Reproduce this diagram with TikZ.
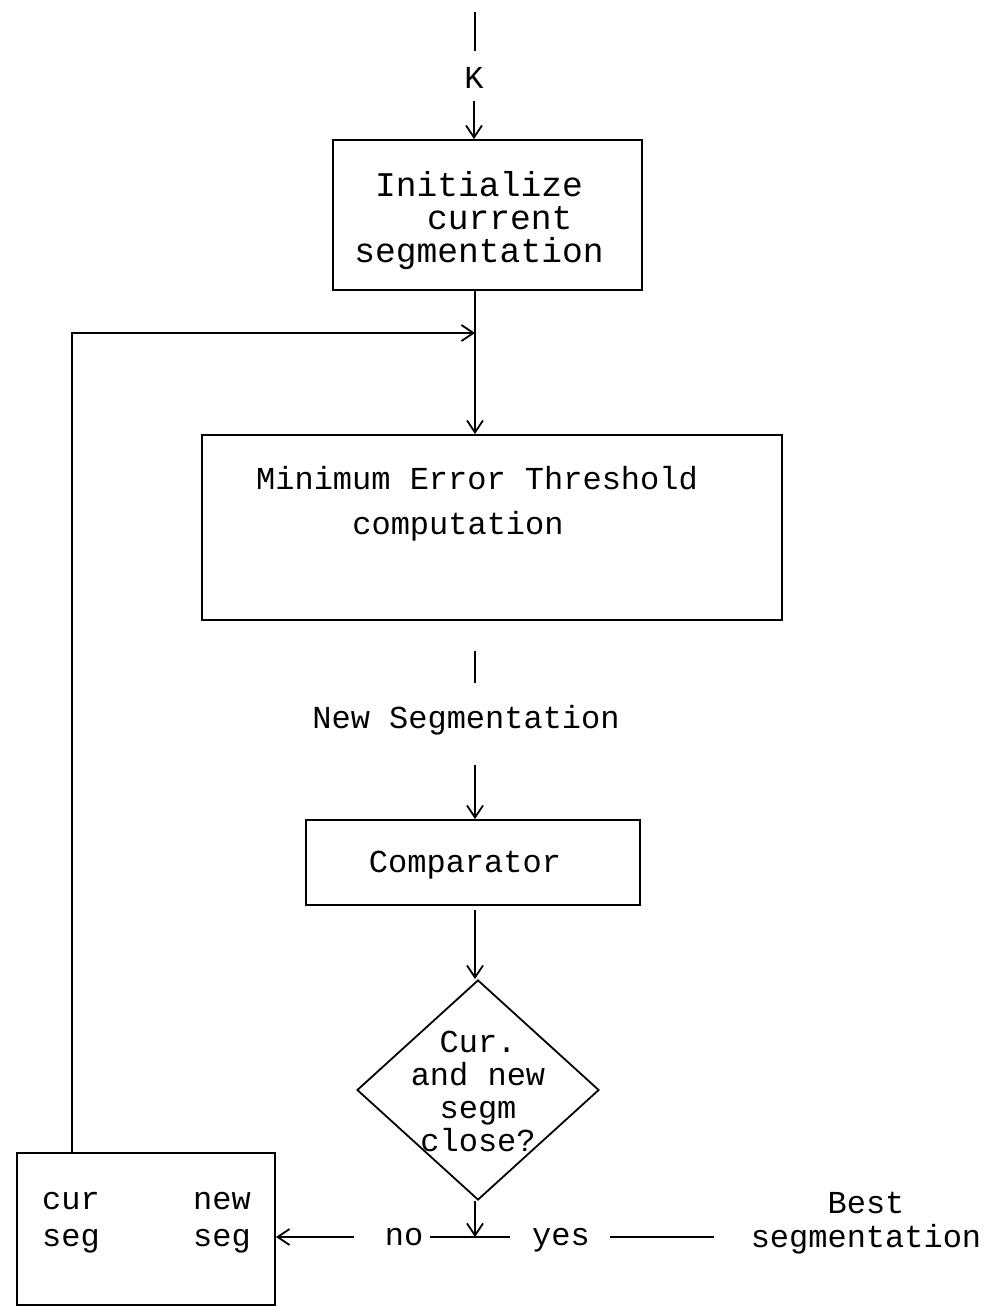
\documentclass[tikz,border=0pt]{standalone}
\usepackage{fontspec}
\setmonofont{Liberation Mono}
\usetikzlibrary{arrows.meta,shapes.geometric}
\begin{document}
\begin{tikzpicture}[x=0.5pt,y=-0.5pt,
  every node/.style={font=\ttfamily\fontsize{16}{16.5}\selectfont},
  box/.style={draw,line width=0.9pt,inner sep=0pt},
  lbl/.style={inner sep=0pt},
  conn/.style={line width=0.9pt},
  arr/.style={conn,-{Straight Barb[length=6pt,width=8pt]}}]
\useasboundingbox (0,0) rectangle (990,1309);
% nodes
\coordinate (top) at (475,12);
\node[lbl] (K) at (474,78) {K};
\node[box,minimum width=154.5pt,minimum height=75pt] (b1) at (487.5,215) {};
\node[lbl,align=center,font=\ttfamily\fontsize{17.3}{16.5}\selectfont] (t1) at (479,221) {Initialize\\\hspace*{1.2em}current\\segmentation};
\coordinate (join) at (475,333);
\node[box,minimum width=290pt,minimum height=92.5pt] (b2) at (492,527.5) {};
\node[lbl] (t2a) at (477,478) {Minimum Error Threshold};
\node[lbl] (t2b) at (458,526) {computation};
\node[lbl] (ns) at (466,720) {New Segmentation};
\node[box,minimum width=167pt,minimum height=42.5pt] (b3) at (473,862.5) {};
\node[lbl] (t3) at (465,865) {Comparator};
\node[draw,shape=diamond,line width=0.9pt,inner sep=0pt,minimum width=121pt,minimum height=110pt] (d) at (478,1090) {};
\node[lbl,align=center] (dt) at (478,1091) {Cur.\\and new\\segm\\close?};
\coordinate (jn) at (475,1237);
\node[lbl,anchor=base] (no) at (404,1245) {no};
\node[lbl,anchor=base] (yes) at (561,1245) {yes};
\node[lbl,align=center,font=\ttfamily\fontsize{16}{17}\selectfont] (best) at (866,1223) {Best\\segmentation};
\node[box,minimum width=129pt,minimum height=76pt] (b4) at (146,1229) {};
\node[lbl,align=left,font=\ttfamily\fontsize{16}{18.5}\selectfont] (cs) at (71,1223) {cur\\seg};
\node[lbl,align=left,font=\ttfamily\fontsize{16}{18.5}\selectfont] (nsg) at (222,1223) {new\\seg};
% connectors
\draw[conn,shorten >=8pt] (top) -- (top |- K.north);
\draw[arr,shorten <=6pt] (K.south) -- (b1.north -| K);
\draw[arr] (b1.south -| join) -- (b2.north -| join);
\draw[arr] (b4.north west) ++(28pt,0) |- (join);
\draw[conn,shorten <=15pt,shorten >=11pt] (b2.south -| join) -- (ns.north -| join);
\draw[arr,shorten <=15pt] (ns.south -| join) -- (b3.north -| join);
\draw[arr,shorten <=2pt] (b3.south -| join) -- (d.north -| join);
\draw[arr] (d.south -| jn) -- (jn);
\draw[conn,shorten <=3pt] (no.east |- jn) -- ([xshift=-11pt]yes.west |- jn);
\draw[conn,shorten <=10pt,shorten >=18pt] (yes.east |- jn) -- (best.west |- jn);
\draw[arr,shorten <=15pt] (no.west |- jn) -- (b4.east |- jn);
\end{tikzpicture}
\end{document}
